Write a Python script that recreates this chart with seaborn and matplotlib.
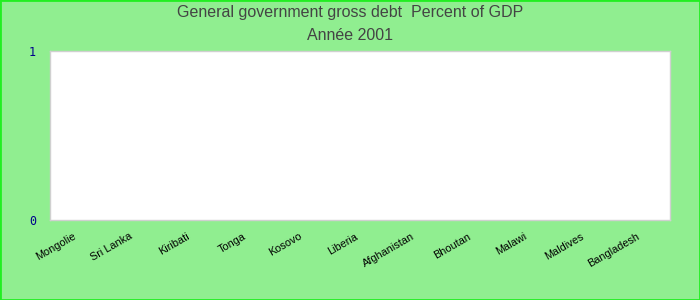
import matplotlib
matplotlib.use("Agg")
import matplotlib.pyplot as plt
from matplotlib.patches import Rectangle
from matplotlib.transforms import ScaledTranslation
import numpy as np
import pandas as pd
import seaborn as sns

countries = ["Mongolie", "Sri Lanka", "Kiribati", "Tonga", "Kosovo", "Liberia",
             "Afghanistan", "Bhoutan", "Malawi", "Maldives", "Bangladesh"]
# No reported values for 2001
debt_pct_gdp = [np.nan] * len(countries)
y_ticks = [0, 1]

title_line1 = "General government gross debt  Percent of GDP"
title_line2 = "Année 2001"

sns.set_theme(style="white")
plt.rcParams["font.family"] = ["Liberation Sans", "DejaVu Sans"]

df = pd.DataFrame({"country": countries, "value": debt_pct_gdp})

fig = plt.figure(figsize=(7, 3), dpi=100, facecolor="#90ee90")
ax = fig.add_axes([50 / 700, 80 / 300, 620 / 700, 169 / 300])
ax.set_facecolor("white")

sns.barplot(data=df, x="country", y="value", order=countries, ax=ax,
            color="#4472c4", errorbar=None)

ax.set_ylim(0, 1)
ax.set_yticks(y_ticks)
ax.set_yticklabels([str(t) for t in y_ticks], family="DejaVu Sans Mono",
                   color="#00008b", fontsize=8.5)
ax.set_xlim(-0.5, len(countries) - 0.5)
ax.set_xticks(range(len(countries)))
ax.set_xticklabels(countries, rotation=30, ha="right", fontsize=7.8,
                   color="black")
shift = ScaledTranslation(-6 / 100, 0, fig.dpi_scale_trans)
for lbl in ax.get_xticklabels():
    lbl.set_transform(lbl.get_transform() + shift)
ax.tick_params(axis="both", length=0)
ax.tick_params(axis="y", pad=10)
ax.tick_params(axis="x", pad=8)
ax.set_xlabel("")
ax.set_ylabel("")
for s in ax.spines.values():
    s.set_color("#d0d0d0")
    s.set_linewidth(1)

fig.text(0.5, 1 - 13 / 300, title_line1, ha="center", va="center",
         fontsize=11.5, color="#444444")
fig.text(0.5, 1 - 35 / 300, title_line2, ha="center", va="center",
         fontsize=11.5, color="#444444")

fig.patches.append(Rectangle((0, 0), 1, 1, transform=fig.transFigure,
                             fill=False, edgecolor="#22ee22", linewidth=2))

fig.savefig("out.png", dpi=100, facecolor=fig.get_facecolor())
